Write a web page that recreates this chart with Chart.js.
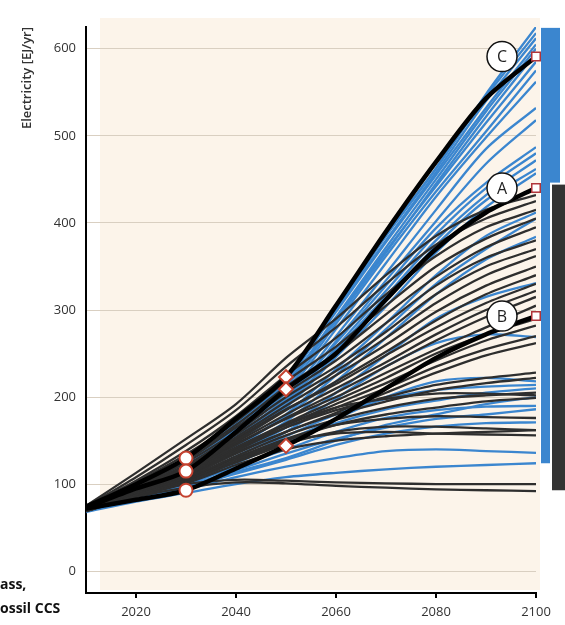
<!DOCTYPE html>
<html>
<head>
<meta charset="utf-8">
<script src="https://cdn.jsdelivr.net/npm/chart.js@4"></script>
<style>
  html, body { margin: 0; padding: 0; background: #fff; }
  canvas { display: block; }
</style>
</head>
<body>
<canvas id="chart" width="565" height="625"></canvas>
<script>
// ─── Data ───
const years = [2010, 2020, 2030, 2040, 2050, 2060, 2070, 2080, 2090, 2100];
const yTicks = [0, 100, 200, 300, 400, 500, 600];
const xTicks = [2020, 2040, 2060, 2080, 2100];

// blue scenario runs (EJ/yr per decade)
const blueRuns = [
  [72, 96, 124, 168, 220, 302, 385, 462, 548, 625],
  [73, 97, 126, 170, 222, 303, 386, 463, 545, 618],
  [71, 95, 122, 166, 218, 300, 380, 458, 540, 612],
  [74, 97, 125, 168, 220, 298, 378, 455, 532, 605],
  [72, 94, 120, 162, 215, 292, 372, 450, 528, 600],
  [70, 93, 118, 160, 212, 288, 366, 445, 522, 595],
  [73, 96, 123, 164, 214, 290, 368, 442, 515, 585],
  [72, 95, 121, 160, 208, 284, 362, 436, 505, 575],
  [71, 94, 119, 158, 205, 278, 354, 430, 498, 562],
  [72, 93, 117, 155, 200, 270, 342, 415, 485, 532],
  [71, 92, 115, 152, 196, 264, 334, 402, 468, 518],
  [72, 94, 118, 155, 198, 262, 328, 394, 446, 487],
  [70, 91, 114, 150, 192, 257, 322, 387, 440, 480],
  [73, 93, 116, 152, 195, 254, 316, 380, 432, 472],
  [71, 92, 113, 148, 190, 250, 310, 374, 426, 462],
  [72, 93, 115, 150, 188, 246, 304, 366, 418, 457],
  [71, 90, 110, 142, 180, 232, 285, 340, 385, 412],
  [72, 91, 112, 144, 178, 225, 278, 330, 370, 405],
  [70, 89, 108, 138, 172, 218, 268, 318, 358, 384],
  [71, 90, 109, 136, 165, 205, 248, 290, 315, 331],
  [72, 88, 106, 132, 160, 198, 235, 262, 272, 269],
  [70, 86, 104, 128, 155, 180, 198, 208, 212, 214],
  [71, 87, 103, 125, 148, 170, 186, 196, 205, 210],
  [70, 85, 100, 120, 140, 160, 176, 185, 189, 190],
  [69, 84, 98, 116, 135, 152, 165, 175, 180, 186],
  [70, 83, 96, 112, 128, 145, 158, 166, 170, 171],
  [69, 82, 94, 108, 120, 130, 138, 140, 138, 136],
  [68, 80, 90, 100, 108, 113, 117, 120, 122, 124],
  [70, 84, 97, 114, 130, 150, 168, 180, 192, 200],
  [71, 86, 102, 124, 150, 175, 200, 218, 222, 218]
];

// dark grey scenario runs
const greyRuns = [
  [75, 113, 152, 192, 245, 290, 340, 385, 415, 432],
  [74, 108, 145, 185, 235, 280, 330, 375, 405, 425],
  [74, 104, 138, 178, 225, 268, 318, 362, 395, 415],
  [73, 102, 134, 172, 218, 258, 305, 350, 382, 405],
  [73, 100, 130, 168, 212, 250, 295, 338, 372, 395],
  [72, 99, 127, 165, 205, 242, 285, 328, 360, 380],
  [72, 98, 125, 160, 200, 235, 275, 318, 350, 370],
  [73, 97, 122, 157, 195, 230, 268, 308, 340, 362],
  [72, 96, 120, 154, 190, 225, 260, 298, 328, 350],
  [71, 95, 118, 150, 185, 218, 252, 288, 318, 340],
  [72, 96, 119, 152, 186, 215, 248, 280, 308, 330],
  [71, 94, 116, 148, 180, 210, 240, 272, 300, 322],
  [70, 93, 114, 145, 176, 205, 235, 265, 292, 315],
  [71, 94, 115, 146, 175, 200, 228, 255, 280, 305],
  [70, 92, 112, 142, 170, 196, 222, 250, 272, 290],
  [71, 92, 111, 140, 168, 192, 216, 242, 265, 282],
  [70, 91, 110, 138, 165, 188, 210, 235, 255, 270],
  [70, 90, 108, 135, 160, 182, 205, 228, 248, 262],
  [71, 92, 112, 140, 165, 185, 200, 214, 222, 228],
  [70, 91, 110, 136, 160, 180, 195, 208, 216, 222],
  [71, 93, 113, 142, 168, 188, 198, 204, 204, 202],
  [70, 90, 107, 132, 156, 174, 188, 198, 202, 205],
  [69, 88, 105, 128, 150, 168, 180, 188, 195, 199],
  [70, 89, 106, 130, 152, 168, 175, 178, 177, 176],
  [69, 87, 103, 125, 146, 160, 166, 166, 164, 162],
  [70, 88, 104, 126, 148, 158, 160, 158, 157, 156],
  [69, 86, 101, 122, 140, 150, 155, 158, 160, 162],
  [70, 88, 100, 105, 104, 102, 101, 100, 100, 100],
  [69, 85, 96, 102, 101, 98, 96, 94, 93, 92]
];

// highlighted pathways
const pathC = [74, 100, 130, 175, 223, 305, 390, 470, 543, 591];
const pathA = [73, 95, 115, 160, 209, 250, 312, 370, 412, 440];
const pathB = [72, 82, 93, 118, 144, 175, 210, 245, 272, 293];
const pathNames = ['C', 'A', 'B'];

const markers2030 = [130, 115, 93];
const markers2050 = [223, 209, 144];
const ends2100 = [591, 440, 293];

// ranges shown as bars on the right
const blueRange = [124, 624];
const greyRange = [93, 444];

const BLUE = '#3b86cf';
const GREY = '#2e2e2e';
const RED = '#c4412f';

function toPoints(row) {
  return row.map((v, i) => ({ x: years[i], y: v }));
}

function runSet(row, color, order) {
  return {
    data: toPoints(row),
    borderColor: color,
    borderWidth: 2.3,
    pointRadius: 0,
    tension: 0.3,
    fill: false,
    order: order,
  };
}

const datasets = [];
blueRuns.forEach(r => datasets.push(runSet(r, BLUE, 4)));
greyRuns.forEach(r => datasets.push(runSet(r, GREY, 3)));
[pathC, pathA, pathB].forEach(r => datasets.push({
  data: toPoints(r),
  borderColor: '#000',
  borderWidth: 4.5,
  borderCapStyle: 'round',
  pointRadius: 0,
  tension: 0.3,
  fill: false,
  order: 2,
}));
datasets.push({
  data: markers2030.map(v => ({ x: 2030, y: v })),
  showLine: false,
  pointStyle: 'circle',
  pointRadius: 6.5,
  pointBackgroundColor: '#fff',
  pointBorderColor: RED,
  pointBorderWidth: 2,
  order: 0,
});
datasets.push({
  data: markers2050.map(v => ({ x: 2050, y: v })),
  showLine: false,
  pointStyle: 'rectRot',
  pointRadius: 7,
  pointBackgroundColor: '#fff',
  pointBorderColor: RED,
  pointBorderWidth: 2,
  order: 0,
});
datasets.push({
  data: ends2100.map(v => ({ x: 2100, y: v })),
  showLine: false,
  pointStyle: 'rect',
  pointRadius: 6,
  pointBackgroundColor: '#fff',
  pointBorderColor: '#b0353a',
  pointBorderWidth: 1.5,
  clip: false,
  order: 0,
});

// ─── Plugins ───
const backdrop = {
  id: 'backdrop',
  beforeDraw(chart) {
    const { ctx, chartArea } = chart;
    ctx.save();
    ctx.fillStyle = '#fcf4ea';
    ctx.fillRect(chartArea.left + 14, 18, chartArea.right + 4 - (chartArea.left + 14), chartArea.bottom - 21);
    ctx.restore();
  }
};

const decorations = {
  id: 'decorations',
  afterDraw(chart) {
    const { ctx, chartArea } = chart;
    const x = chart.scales.x, y = chart.scales.y;
    ctx.save();

    // range bars
    const bx = chartArea.right + 5;
    const bTop = y.getPixelForValue(blueRange[1]);
    const bBot = y.getPixelForValue(blueRange[0]);
    ctx.fillStyle = BLUE;
    ctx.fillRect(bx, bTop, 19, bBot - bTop);
    const gTop = y.getPixelForValue(greyRange[1]);
    const gBot = y.getPixelForValue(greyRange[0]);
    ctx.fillStyle = '#fff';
    ctx.fillRect(bx + 9, gTop - 2, 30, gBot - gTop + 2);
    ctx.fillStyle = '#333';
    ctx.fillRect(bx + 11, gTop, 30, gBot - gTop);

    // pathway labels
    const lx = x.getPixelForValue(2100) - 34;
    ends2100.forEach((v, i) => {
      const ly = y.getPixelForValue(v);
      ctx.beginPath();
      ctx.arc(lx, ly, 15, 0, Math.PI * 2);
      ctx.fillStyle = '#fff';
      ctx.fill();
      ctx.lineWidth = 1.5;
      ctx.strokeStyle = '#111';
      ctx.stroke();
      ctx.fillStyle = '#222';
      ctx.font = '16px "Open Sans"';
      ctx.textAlign = 'center';
      ctx.textBaseline = 'middle';
      ctx.fillText(pathNames[i], lx, ly + 1);
    });

    // clipped legend text from the neighbouring panel
    ctx.fillStyle = '#111';
    ctx.font = 'bold 14px "Open Sans"';
    ctx.textAlign = 'left';
    ctx.textBaseline = 'alphabetic';
    ctx.fillText('ass,', 0, 589);
    ctx.fillText('ossil CCS', 0, 613);
    ctx.restore();
  }
};

new Chart(document.getElementById('chart'), {
  type: 'line',
  data: { datasets: datasets },
  options: {
    responsive: false,
    animation: false,
    devicePixelRatio: 1,
    layout: { padding: { top: 27, right: 29, left: 0, bottom: 0 } },
    plugins: {
      legend: { display: false },
      tooltip: { enabled: false },
    },
    scales: {
      x: {
        type: 'linear',
        min: 2010,
        max: 2100,
        afterBuildTicks: s => { s.ticks = xTicks.map(v => ({ value: v })); },
        afterFit: s => { s.height = 32; },
        grid: { drawOnChartArea: false, drawTicks: true, tickLength: 5, color: '#000', lineWidth: 2 },
        border: { display: true, color: '#000', width: 2 },
        ticks: {
          color: '#333',
          padding: 6,
          font: { family: 'Open Sans', size: 13 },
          callback: v => String(v),
          maxRotation: 0,
        },
      },
      y: {
        min: -25,
        max: 625,
        afterBuildTicks: s => { s.ticks = yTicks.map(v => ({ value: v })); },
        afterFit: s => { s.width = 86; },
        grid: { color: '#d9cfc1', lineWidth: 1, drawTicks: false },
        border: { display: true, color: '#000', width: 2 },
        ticks: {
          color: '#333',
          padding: 10,
          font: { family: 'Open Sans', size: 13 },
        },
        title: {
          display: true,
          text: 'Electricity [EJ/yr]',
          align: 'end',
          color: '#333',
          font: { family: 'Open Sans', size: 13, weight: '600' },
          padding: { top: 19 },
        },
      },
    },
  },
  plugins: [backdrop, decorations],
});
</script>
</body>
</html>
